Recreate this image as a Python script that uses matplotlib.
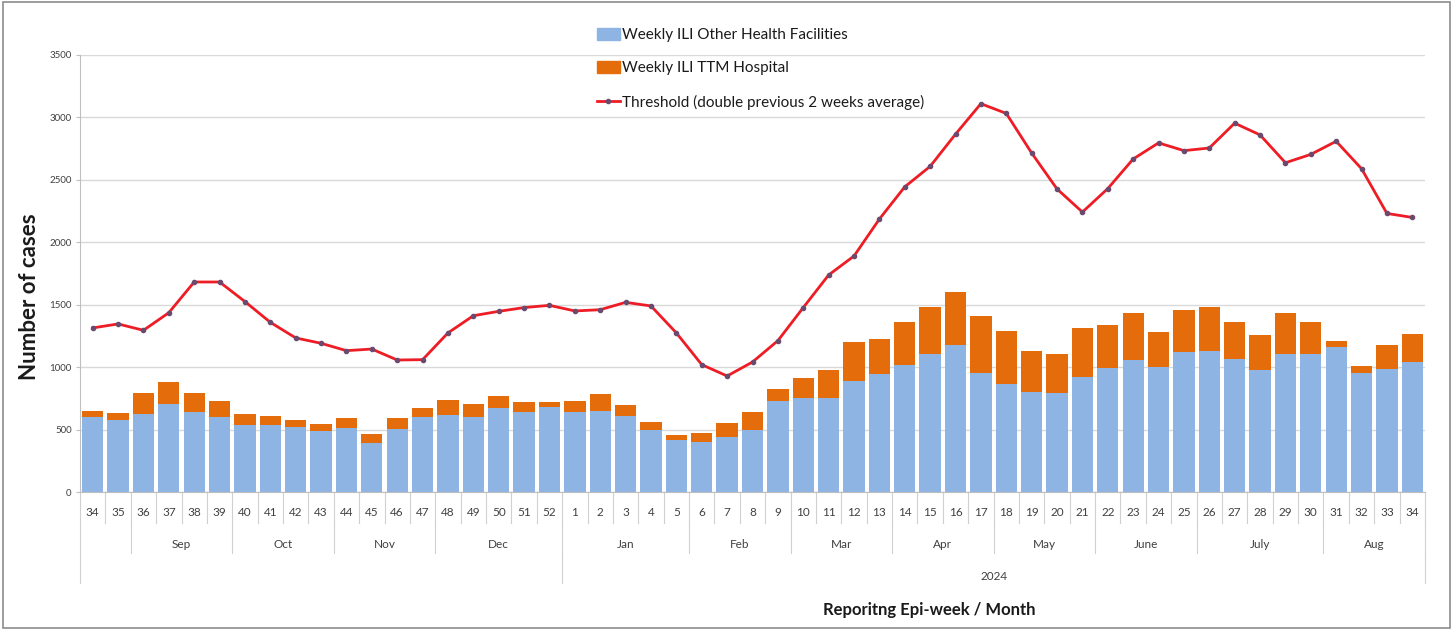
import matplotlib
matplotlib.use('Agg')
import matplotlib.pyplot as plt
from matplotlib.patches import Rectangle
from matplotlib.lines import Line2D
from matplotlib.patches import Patch

plt.rcParams['font.family'] = ['Lato', 'DejaVu Sans']

weeks = [34, 35, 36, 37, 38, 39, 40, 41, 42, 43, 44, 45, 46, 47, 48, 49, 50, 51, 52,
         1, 2, 3, 4, 5, 6, 7, 8, 9, 10, 11, 12, 13, 14, 15, 16, 17,
         18, 19, 20, 21, 22, 23, 24, 25, 26, 27, 28, 29, 30, 31, 32, 33, 34]

other_facilities = [598, 574, 627, 705, 638, 598, 539, 539, 518, 491, 510, 392, 502, 598, 617, 603, 676, 641, 678,
                    641, 651, 611, 494, 419, 403, 441, 497, 729, 756, 756, 889, 945, 1020, 1108, 1180, 956,
                    868, 801, 793, 921, 996, 1060, 1004, 1119, 1127, 1065, 975, 1105, 1105, 1164, 951, 985, 1041]

ttm_hospital = [53, 59, 166, 176, 155, 128, 86, 67, 59, 56, 80, 70, 93, 75, 123, 102, 93, 83, 46,
                85, 131, 89, 69, 38, 70, 114, 144, 99, 154, 219, 315, 283, 342, 377, 425, 451,
                422, 331, 312, 390, 342, 374, 280, 336, 352, 297, 283, 326, 257, 48, 61, 192, 225]

threshold = [1314, 1346, 1295, 1436, 1682, 1682, 1525, 1359, 1234, 1191, 1132, 1145, 1057, 1060, 1274, 1412, 1447, 1477, 1495,
             1450, 1460, 1519, 1490, 1274, 1020, 929, 1041, 1212, 1477, 1738, 1890, 2186, 2444, 2608, 2866, 3110,
             3032, 2715, 2427, 2242, 2430, 2667, 2796, 2734, 2755, 2954, 2860, 2637, 2704, 2809, 2589, 2231, 2199]

months = ['', 'Sep', 'Oct', 'Nov', 'Dec', 'Jan', 'Feb', 'Mar', 'Apr', 'May', 'June', 'July', 'Aug']
month_sizes = [2, 4, 4, 4, 5, 5, 4, 4, 4, 4, 4, 5, 4]
years = ['', '2024']
year_sizes = [19, 34]

blue = '#8DB4E2'
orange = '#E46C0A'
red = '#EE1C25'
grid_col = '#D9D9D9'
sep_col = '#D0D0D0'
txt_col = '#404040'

fig = plt.figure(figsize=(14.55, 6.3), dpi=100)
ax = fig.add_axes([80 / 1455, 1 - 492 / 630, 1345 / 1455, 437 / 630])

x = list(range(len(weeks)))
ax.bar(x, other_facilities, width=0.84, color=blue, zorder=2)
ax.bar(x, ttm_hospital, width=0.84, bottom=other_facilities, color=orange, zorder=2)
ax.plot(x, threshold, color=red, lw=2, marker='o', markersize=3,
        markerfacecolor='#6A4A6E', markeredgecolor='#6A4A6E', zorder=3)

ax.set_xlim(-0.5, len(weeks) - 0.5)
ax.set_ylim(0, 3500)
ax.set_yticks(range(0, 3501, 500))
ax.tick_params(axis='y', labelsize=7, colors=txt_col, length=3, width=0.8, pad=3)
ax.tick_params(axis='y', color='#BFBFBF')
ax.yaxis.grid(True, color=grid_col, lw=1, zorder=0)
ax.set_axisbelow(True)
ax.set_xticks([])
for s in ['top', 'right']:
    ax.spines[s].set_visible(False)
ax.spines['left'].set_color('#BFBFBF')
ax.spines['bottom'].set_color('#BFBFBF')

# multi-level category axis
tr = ax.get_xaxis_transform()
h = 437.0
row1 = -31 / h
row2 = -61 / h
row3 = -91 / h
for i, w in enumerate(weeks):
    ax.text(i, -21 / h, str(w), transform=tr, ha='center', va='center', fontsize=8.5, color=txt_col)
for i in range(len(weeks) + 1):
    ax.plot([i - 0.5, i - 0.5], [0, row1], transform=tr, color=sep_col, lw=0.8, clip_on=False)

start = 0
for name, n in zip(months, month_sizes):
    ax.text(start + (n - 1) / 2, -53 / h, name, transform=tr, ha='center', va='center', fontsize=8.5, color=txt_col)
    if name:
        ax.plot([start - 0.5, start - 0.5], [row1, row2], transform=tr, color=sep_col, lw=0.8, clip_on=False)
    start += n
ax.plot([start - 0.5, start - 0.5], [row1, row2], transform=tr, color=sep_col, lw=0.8, clip_on=False)

start = 0
for name, n in zip(years, year_sizes):
    ax.text(start + (n - 1) / 2, -85 / h, name, transform=tr, ha='center', va='center', fontsize=8.5, color=txt_col)
    ax.plot([start - 0.5, start - 0.5], [row2, row3], transform=tr, color=sep_col, lw=0.8, clip_on=False)
    if start == 0:
        ax.plot([start - 0.5, start - 0.5], [row1, row2], transform=tr, color=sep_col, lw=0.8, clip_on=False)
    start += n
ax.plot([start - 0.5, start - 0.5], [row2, row3], transform=tr, color=sep_col, lw=0.8, clip_on=False)

fig.text(30 / 1455, 1 - 297 / 630, 'Number of cases', rotation=90, ha='center', va='center',
         fontsize=16, fontweight='bold', color='#1a1a1a')
fig.text(929 / 1455, 1 - 610 / 630, 'Reporitng Epi-week / Month', ha='center', va='center',
         fontsize=12, fontweight='bold', color='#1a1a1a')

handles = [Patch(color=blue), Patch(color=orange),
           Line2D([], [], color=red, lw=2, marker='o', markersize=3,
                  markerfacecolor='#6A4A6E', markeredgecolor='#6A4A6E')]
labels = ['Weekly ILI Other Health Facilities', 'Weekly ILI TTM Hospital',
          'Threshold (double previous 2 weeks average)']
fig.legend(handles, labels, loc='upper left', bbox_to_anchor=(597 / 1455, 1 - 28 / 630),
           frameon=False, fontsize=11, handlelength=1.5, handleheight=0.8, handletextpad=0.15,
           labelspacing=1.25, borderpad=0, borderaxespad=0, labelcolor='#1a1a1a')

fig.patches.append(Rectangle((3 / 1455, 2 / 630), 1447 / 1455, 626 / 630, transform=fig.transFigure,
                             fill=False, edgecolor='#8C8C8C', lw=1.2))

fig.savefig('out.png', dpi=100)
